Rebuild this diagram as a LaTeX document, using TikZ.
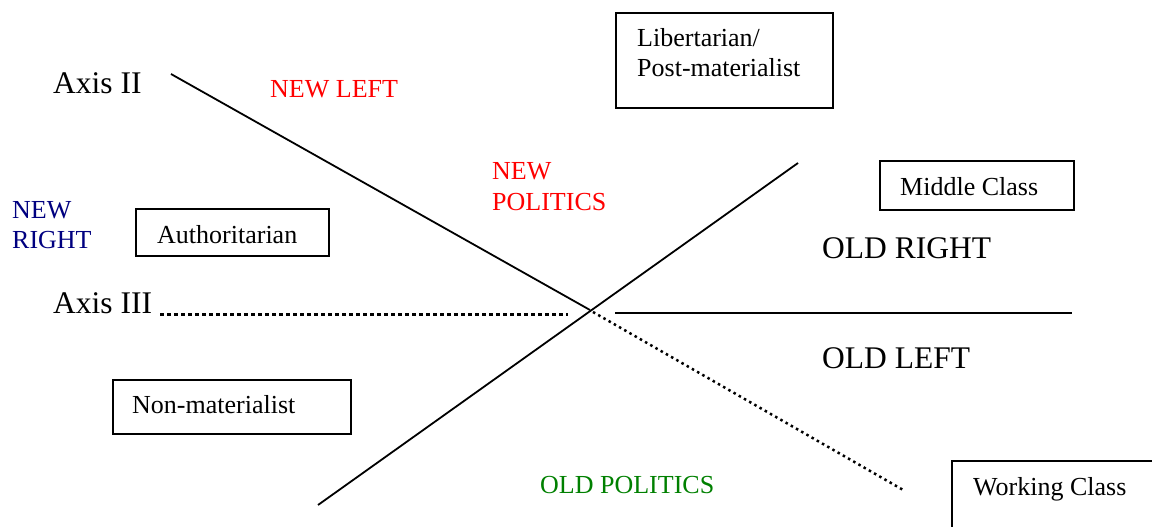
\documentclass[tikz,border=0pt]{standalone}
\usepackage{fontspec}
\setmainfont{Liberation Serif}
\definecolor{navyblue}{RGB}{0,0,128}
\definecolor{darkgreen}{RGB}{0,128,0}
\begin{document}
\begin{tikzpicture}[x=1pt,y=-1pt,
  lbl/.style={inner sep=0pt,anchor=base west,font=\fontsize{26}{31}\selectfont},
  big/.style={inner sep=0pt,anchor=base west,font=\fontsize{31.5}{36}\selectfont},
  box/.style={draw,line width=2pt,anchor=north west,inner sep=0pt},
  axisline/.style={line width=1.8pt},
  bigdots/.style={line width=3pt,dash pattern=on 4pt off 3pt},
  smalldots/.style={line width=2.5pt,dash pattern=on 2.5pt off 3.5pt}]
\useasboundingbox (0,0) rectangle (1152,527);
\clip (0,0) rectangle (1152,527);
% boxes
\node[box,minimum width=217pt,minimum height=95pt] (libbox) at (615,12) {};
\node[box,minimum width=194pt,minimum height=49pt] (midbox) at (879,160) {};
\node[box,minimum width=193pt,minimum height=47pt] (authbox) at (135,208) {};
\node[box,minimum width=238pt,minimum height=54pt] (nonbox) at (112,379) {};
\node[box,minimum width=230pt,minimum height=90pt] (workbox) at (951,460) {};
% box texts
\node[lbl] (lib1) at (637,47) {Libertarian/};
\node[lbl] (lib2) at (637,77) {Post-materialist};
\node[lbl] (mid) at (900,195) {Middle Class};
\node[lbl] (auth) at (157,243) {Authoritarian};
\node[lbl] (non) at (132,413) {Non-materialist};
\node[lbl] (work) at (973,495) {Working Class};
% labels
\node[big] (ax2) at (53,93) {Axis II};
\node[big] (ax3) at (53,313) {Axis III};
\node[big] (oldright) at (822,258) {OLD RIGHT};
\node[big] (oldleft) at (822,368) {OLD LEFT};
\node[lbl,text=red] (newleft) at (270,98) {NEW LEFT};
\node[lbl,text=red] (newpol1) at (492,179) {NEW};
\node[lbl,text=red] (newpol2) at (492,210) {POLITICS};
\node[lbl,text=navyblue] (newright1) at (12,218) {NEW};
\node[lbl,text=navyblue] (newright2) at (12,248) {RIGHT};
\node[lbl,text=darkgreen] (oldpol) at (540,493) {OLD POLITICS};
% axis coordinates
\coordinate (a2start) at (171,74);
\coordinate (cross) at (590,310);
\coordinate (a2dot) at (593,312);
\coordinate (a2end) at (905,491);
\coordinate (a1start) at (318,505);
\coordinate (a1end) at (798,163);
\coordinate (a3start) at (160,314);
\coordinate (a3dotend) at (568,314);
\coordinate (a3solid) at (615,313);
\coordinate (a3end) at (1072,313);
% axes
\draw[axisline] (a2start) -- (cross);
\draw[smalldots] (a2dot) -- (a2end);
\draw[axisline] (a1start) -- (a1end);
\draw[bigdots] (a3start) -- (a3dotend);
\draw[line width=2.2pt] (a3solid) -- (a3end);
\end{tikzpicture}
\end{document}
